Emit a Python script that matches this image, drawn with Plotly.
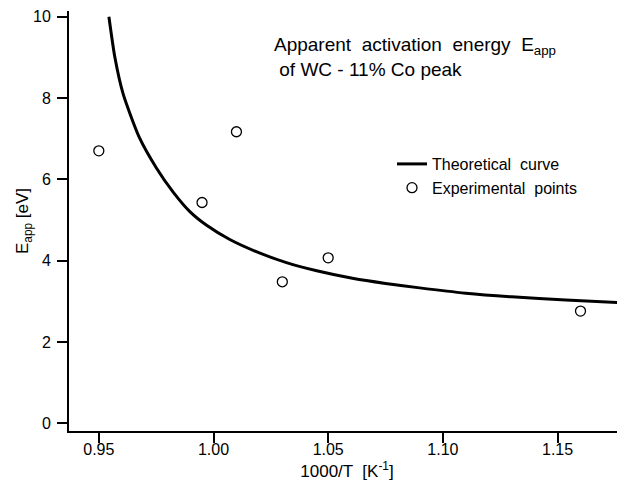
import plotly.graph_objects as go

# Theoretical curve
curve_x = [0.9544, 0.9570, 0.9606, 0.9675, 0.9751, 0.9825, 0.9898, 0.9970, 1.0071,
           1.0200, 1.0318, 1.0450, 1.0611, 1.0750, 1.0899, 1.1100, 1.1300, 1.1536, 1.1800]
curve_y = [10.0, 9.0, 8.1, 7.05, 6.28, 5.68, 5.20, 4.87, 4.52,
           4.19, 3.95, 3.75, 3.56, 3.44, 3.33, 3.20, 3.11, 3.03, 2.96]

# Experimental points
exp_x = [0.950, 0.995, 1.010, 1.030, 1.050, 1.160]
exp_y = [6.70, 5.43, 7.17, 3.48, 4.07, 2.76]

x_ticks = [0.95, 1.00, 1.05, 1.10, 1.15]
x_tick_labels = ["0.95", "1.00", "1.05", "1.10", "1.15"]
y_ticks = [0, 2, 4, 6, 8, 10]

FONT = "Liberation Sans"

fig = go.Figure()
fig.add_trace(go.Scatter(
    x=curve_x, y=curve_y, mode="lines", name="Theoretical  curve",
    line=dict(color="black", width=3, shape="spline", smoothing=0.6),
))
fig.add_trace(go.Scatter(
    x=exp_x, y=exp_y, mode="markers", name="Experimental  points",
    marker=dict(symbol="circle-open", size=10, color="black", line=dict(width=1.3)),
))

# page body has an 8px margin, so the figure sits 8px right/down in the window
W, H = 617, 474
L, T = 61, 3
PW, PH = W - L, 420
B = H - T - PH

fig.update_layout(
    width=W, height=H,
    margin=dict(l=L, r=0, t=T, b=B, autoexpand=False),
    paper_bgcolor="white", plot_bgcolor="white",
    font=dict(family=FONT, color="black", size=15),
    showlegend=True,
    legend=dict(
        x=(384 - L) / PW, y=1 - (139 - T) / PH, xanchor="left", yanchor="top",
        bgcolor="rgba(0,0,0,0)", font=dict(size=16, family=FONT),
        itemwidth=30, tracegroupgap=0,
    ),
    xaxis=dict(
        range=[0.937, 1.1794], tickvals=x_ticks, ticktext=x_tick_labels,
        showline=True, linecolor="black", linewidth=2, mirror=False,
        ticks="outside", ticklen=10, tickwidth=2, tickcolor="black",
        showgrid=False, zeroline=False, ticklabelstandoff=-7,
        tickfont=dict(size=16, family=FONT),
        title=dict(text="1000/T  [K<sup>-1</sup>]", font=dict(size=17, family=FONT), standoff=8),
    ),
    yaxis=dict(
        range=[-0.19, 10.14], tickvals=y_ticks,
        showline=True, linecolor="black", linewidth=2, mirror=False,
        ticks="outside", ticklen=10, tickwidth=2, tickcolor="black",
        showgrid=False, zeroline=False, ticklabelstandoff=3,
        tickfont=dict(size=16, family=FONT),
        title=dict(text="E<sub>app</sub> [eV]", font=dict(size=17, family=FONT), standoff=0),
    ),
    annotations=[dict(
        text="Apparent  activation  energy  E<sub>app</sub><br> of WC - 11% Co peak",
        xref="paper", yref="paper", x=(264 - L) / PW, y=1 - (24 - T) / PH,
        xanchor="left", yanchor="top", align="left", showarrow=False,
        font=dict(size=19, family=FONT, color="black"),
    )],
)

fig.write_html("out.html")
